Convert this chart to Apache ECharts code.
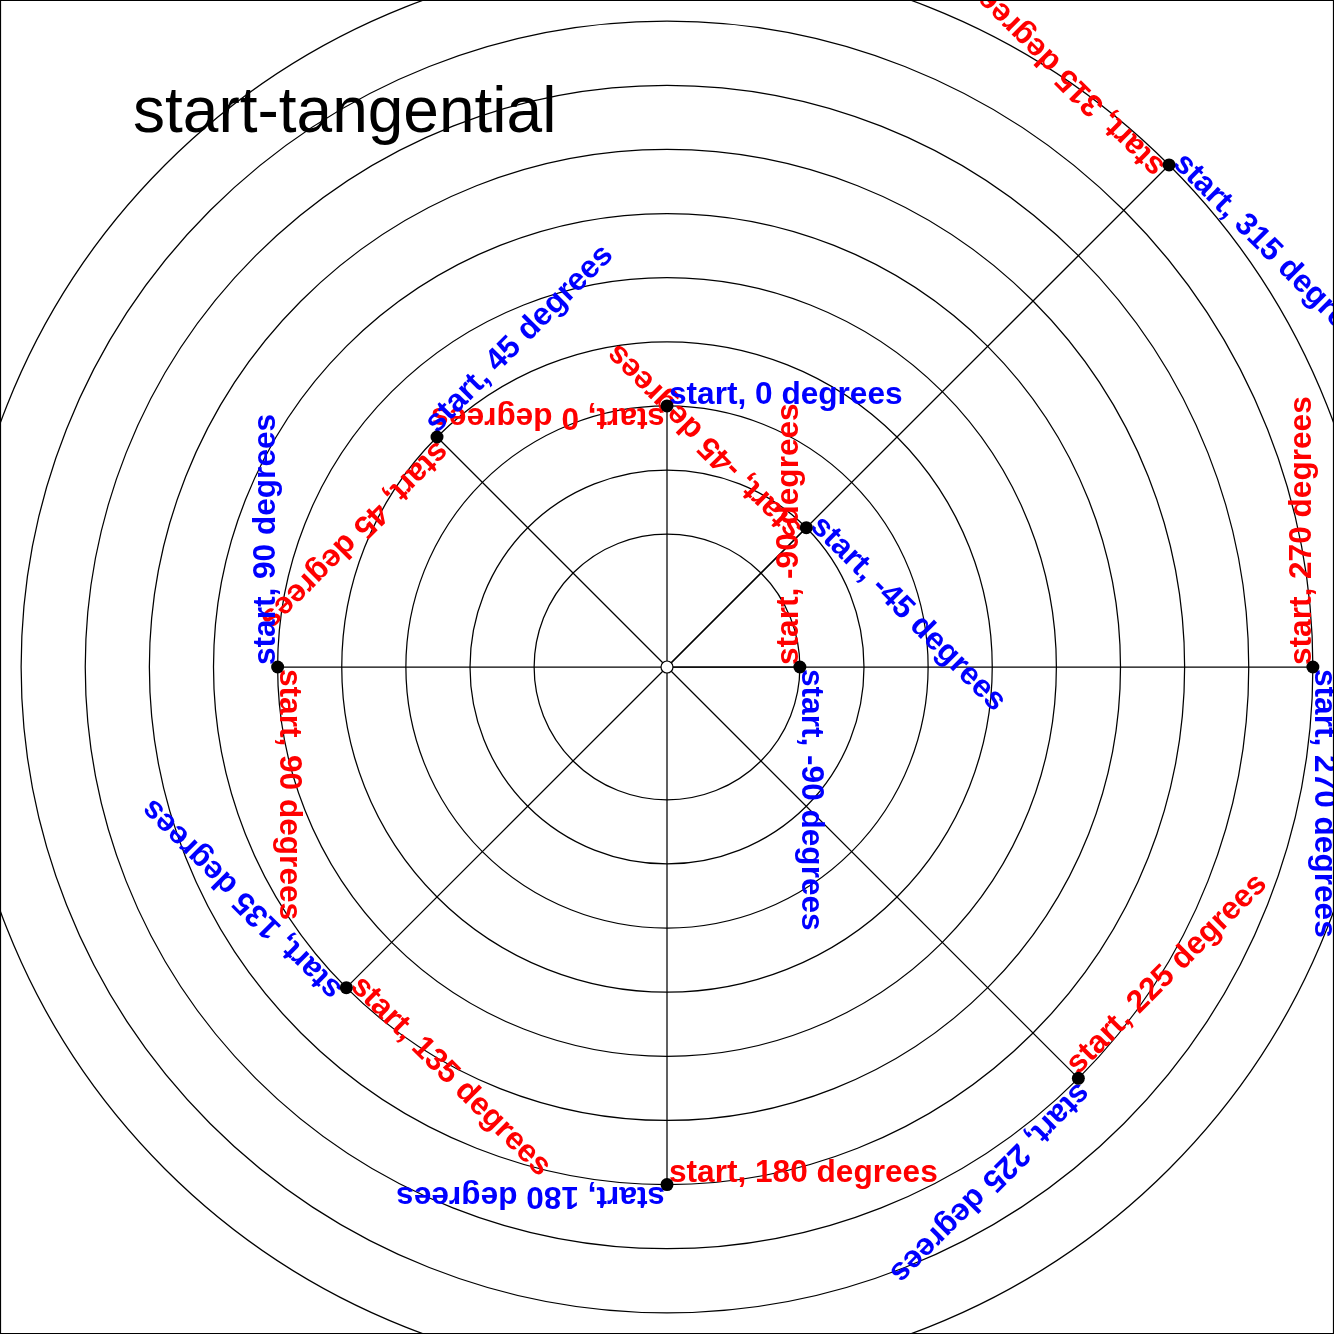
<!DOCTYPE html>
<html><head><meta charset="utf-8">
<script src="https://cdn.jsdelivr.net/npm/echarts@6/dist/echarts.min.js"></script>
<style>html,body{margin:0;padding:0;background:#fff}#chart{width:1334px;height:1334px}</style>
</head><body><div id="chart"></div>
<script>
// ---- data ----
const titleText = 'start-tangential';
const labelDegrees = [-90, -45, 0, 45, 90, 135, 180, 225, 270, 315];
const pointRadii = [2, 3, 4, 5, 6, 7, 8, 9, 10, 11];
const circleRadii = [2, 3, 4, 5, 6, 7, 8, 9, 10, 11];
const labelPrefix = 'start, ';
const labelSuffix = ' degrees';
const labelColors = ['#0000ff', '#ff0000']; // blue: rotated by angle; red: rotated by angle + 180
const radiusMin = -0.072, radiusMax = 11;

// ---- styling ----
const FS = 31.6;
const LABEL_FONT = 'bold ' + FS + 'px "Liberation Sans", Arial, sans-serif';
const BASE = 0.35;
const LW = 1.25;

function posAngle(d) { return ((d % 360) + 360) % 360; }
const pointData = labelDegrees.map((d, i) => [pointRadii[i], posAngle(d)]);

const chart = echarts.init(document.getElementById('chart'), null, { renderer: 'canvas' });
const option = {
  animation: false,
  backgroundColor: '#fff',
  title: {
    text: titleText, left: 133, top: 82, padding: 0,
    textStyle: { fontFamily: '"Liberation Sans", Arial, sans-serif', fontWeight: 'normal', fontSize: 64, color: '#000' }
  },
  polar: { center: [667, 667], radius: 710 },
  angleAxis: {
    type: 'value', min: 0, max: 360, startAngle: 90, clockwise: false, show: false,
    axisLine: { show: false }, splitLine: { show: false }, axisTick: { show: false }, axisLabel: { show: false }
  },
  radiusAxis: {
    type: 'value', min: radiusMin, max: radiusMax, show: false,
    axisLine: { show: false }, splitLine: { show: false }, axisTick: { show: false }, axisLabel: { show: false }
  },
  graphic: [{
    type: 'rect', silent: true, z: 100,
    shape: { x: 0.5, y: 0.5, width: 1333, height: 1333 },
    style: { fill: 'none', stroke: '#000', lineWidth: 1.2 }
  }],
  series: [
    {
      type: 'custom', coordinateSystem: 'polar', silent: true,
      data: circleRadii.map(r => [r, 0]),
      renderItem: function (params, api) {
        const c = api.coord([radiusMin, 0]);
        const p = api.coord([api.value(0), 0]);
        const r = Math.hypot(p[0] - c[0], p[1] - c[1]);
        return { type: 'circle', shape: { cx: c[0], cy: c[1], r: r }, style: { fill: 'none', stroke: '#000', lineWidth: LW } };
      }
    },
    {
      type: 'custom', coordinateSystem: 'polar', silent: true,
      data: pointData,
      renderItem: function (params, api) {
        const r = api.value(0), a = api.value(1);
        const c = api.coord([radiusMin, a]);
        const p = api.coord([r, a]);
        return { type: 'line', shape: { x1: c[0], y1: c[1], x2: p[0], y2: p[1] }, style: { stroke: '#000', lineWidth: LW } };
      }
    },
    {
      type: 'custom', coordinateSystem: 'polar', silent: true,
      data: pointData,
      renderItem: function (params, api) {
        const d = labelDegrees[params.dataIndex];
        const p = api.coord([api.value(0), api.value(1)]);
        const text = labelPrefix + d + labelSuffix;
        const mk = (rot, color) => ({
          type: 'text', x: p[0], y: p[1], rotation: rot * Math.PI / 180,
          style: { text: text, x: 2, y: -BASE * FS, fill: color, font: LABEL_FONT, align: 'left', verticalAlign: 'middle' }
        });
        return { type: 'group', children: [mk(d, labelColors[0]), mk(d + 180, labelColors[1])] };
      }
    },
    {
      type: 'scatter', coordinateSystem: 'polar', silent: true,
      symbol: 'circle', symbolSize: 13,
      itemStyle: { color: '#000', opacity: 1 },
      data: pointData
    },
    {
      type: 'scatter', coordinateSystem: 'polar', silent: true,
      symbol: 'circle', symbolSize: 12,
      itemStyle: { color: '#fff', borderColor: '#000', borderWidth: 1.2, opacity: 1 },
      data: [[radiusMin, 0]]
    }
  ]
};
chart.setOption(option);
</script>
</body></html>
